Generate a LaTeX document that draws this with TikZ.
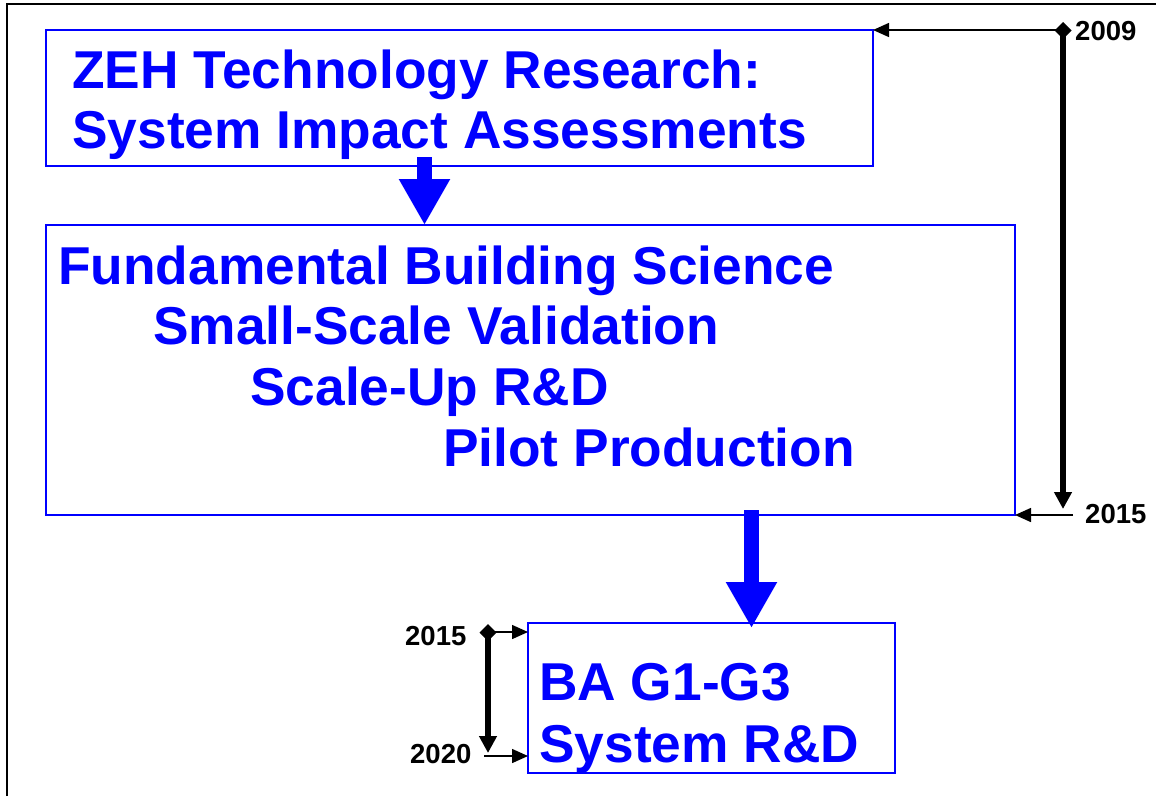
\documentclass[tikz,border=0pt]{standalone}
\usepackage{fontspec}
\setmainfont{Liberation Sans}
\usetikzlibrary{arrows.meta}
\tikzset{
  box/.style={draw=blue, line width=1.5pt, inner sep=0pt, outer sep=0pt, anchor=north west},
  big/.style={font=\bfseries\fontsize{53.3}{60}\selectfont, text=blue, inner sep=0pt, anchor=base west},
  year/.style={font=\bfseries\fontsize{27.5}{30}\selectfont, inner sep=0pt, anchor=base west},
  flow/.style={blue, line width=15pt, -{Triangle[length=46pt, width=48pt]}},
  span/.style={line width=5.5pt, shorten <=-8pt, {Diamond[length=17pt, width=17pt]}-{Triangle[length=17pt, width=17pt]}},
  tick/.style={line width=1.5pt, -{Triangle[length=16pt, width=14pt]}}
}
\begin{document}
\begin{tikzpicture}[x=1pt, y=-1pt]
  \useasboundingbox (0,0) rectangle (1156,796);
  % outer frame, runs off the page
  \draw[line width=2pt] (7,796) -- (7,4) -- (1160,4);

  % boxes
  \node[box, minimum width=827pt, minimum height=136pt] (zeh) at (46,30) {};
  \node[box, minimum width=969pt, minimum height=290pt] (fbs) at (46,225) {};
  \node[box, minimum width=367pt, minimum height=150pt] (ba) at (528,623) {};

  \node[big] (zeha) at (72,88) {ZEH Technology Research:};
  \node[big] (zehb) at (72,148) {System Impact Assessments};
  \node[big] (fbsa) at (58,284) {Fundamental Building Science};
  \node[big] (fbsb) at (153,344) {Small-Scale Validation};
  \node[big] (fbsc) at (250,405) {Scale-Up R\&D};
  \node[big] (fbsd) at (443,466) {Pilot Production};
  \node[big] (baa) at (539,700) {BA G1-G3};
  \node[big] (bab) at (539,762) {System R\&D};

  % flow arrows
  \draw[flow] ([xshift=-35pt, yshift=9pt]zeh.south) -- ([xshift=-35pt]zeh.south |- fbs.north);
  \draw[flow] ([xshift=40pt, yshift=5pt]ba.north |- fbs.south) -- ([xshift=40pt, yshift=-5pt]ba.north);

  % time lines
  \coordinate (s2009) at (1063,30);
  \coordinate (e2015) at (1063,509);
  \coordinate (s2015) at (488,632);
  \coordinate (e2020) at (488,753);
  \node[year] (y2009) at (1075,40) {2009};
  \node[year] (y2015a) at (1085,523) {2015};
  \node[year] (y2015b) at (405,645) {2015};
  \node[year] (y2020) at (410,763) {2020};

  \draw[span] (s2009) -- (e2015);
  \draw[tick] (s2009) -- (zeh.north east);
  \draw[tick] (1073,515) -- (fbs.south east);
  \draw[span] (s2015) -- (e2020);
  \draw[tick] (s2015) -- (s2015 -| ba.west);
  \draw[tick] (484,756) -- (484,756 -| ba.west);
\end{tikzpicture}
\end{document}
